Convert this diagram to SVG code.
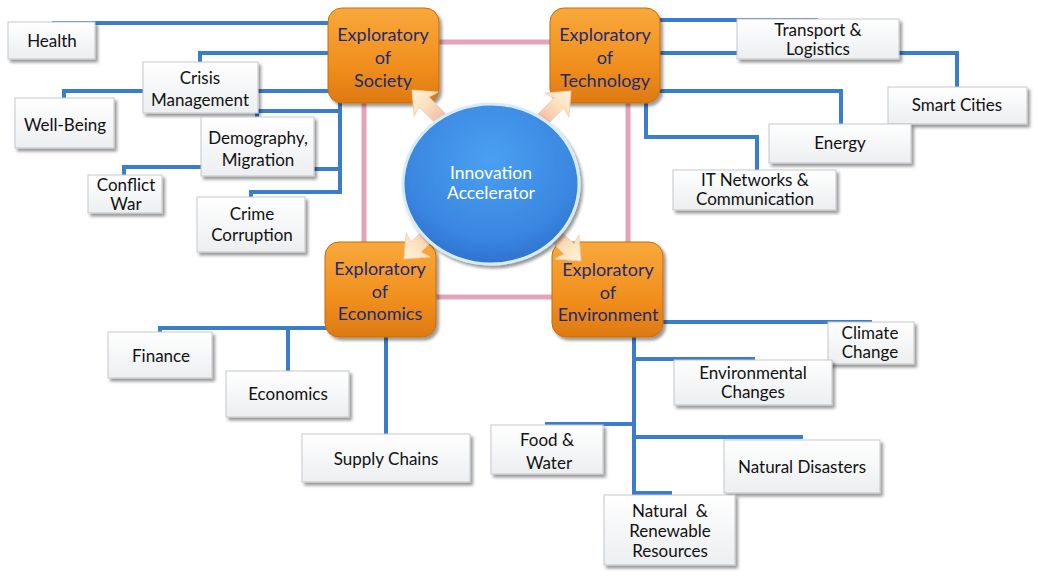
<svg xmlns="http://www.w3.org/2000/svg" width="1038" height="578" viewBox="0 0 1038 578">
<style>
.conn{fill:none;stroke:#3a7dcc;stroke-width:4;stroke-linejoin:miter}
.pink{fill:none;stroke:#e3a3ba;stroke-width:5}
.wb{fill:url(#wg);stroke:#c3c8cd;stroke-width:1;filter:url(#sh)}
.ob{fill:url(#og);stroke:#c86d0a;stroke-width:1;filter:url(#sh)}
.wt{font-family:Lato,"Liberation Sans",sans-serif;font-size:17px;fill:#111;text-anchor:middle}
.ot{font-family:Lato,"Liberation Sans",sans-serif;font-size:18px;fill:#1c2a78;text-anchor:middle}
.ct{font-family:Lato,"Liberation Sans",sans-serif;font-size:17.5px;fill:#fff;text-anchor:middle}
.arr{fill:url(#ag);stroke:#f0cdb5;stroke-width:0.8}
</style>
<defs>
<filter id="sh" x="-20%" y="-20%" width="140%" height="150%">
<feDropShadow dx="2.5" dy="3" stdDeviation="1.5" flood-color="#000" flood-opacity="0.4"/>
</filter>
<linearGradient id="wg" x1="0" y1="0" x2="0" y2="1">
<stop offset="0" stop-color="#ffffff"/>
<stop offset="1" stop-color="#eceef0"/>
</linearGradient>
<linearGradient id="og" x1="0" y1="0" x2="0" y2="1">
<stop offset="0" stop-color="#f9a83c"/>
<stop offset="0.6" stop-color="#f08f1e"/>
<stop offset="1" stop-color="#dd7a10"/>
</linearGradient>
<radialGradient id="cg" cx="0.5" cy="0.35" r="0.7">
<stop offset="0" stop-color="#4aa0f2"/>
<stop offset="0.7" stop-color="#3a86e0"/>
<stop offset="1" stop-color="#2c6cc8"/>
</radialGradient>
<linearGradient id="ag" x1="0" y1="0" x2="1" y2="0">
<stop offset="0" stop-color="#f2b4a4"/>
<stop offset="0.55" stop-color="#fbe0bc"/>
<stop offset="1" stop-color="#fff3dc"/>
</linearGradient>
</defs>

<g id="connectors">
<path class="pink" d="M439,42 H550 M364,103 V242 M628,103 V242 M436,297 H552"/>
<path class="conn" d="M52,23 H330"/>
<path class="conn" d="M200,62 V53 H330"/>
<path class="conn" d="M64,98 V91 H330"/>
<path class="conn" d="M340,103 V192 H251 V197"/>
<path class="conn" d="M258,111 H340 M257,111 V117"/>
<path class="conn" d="M314,169 H340"/>
<path class="conn" d="M201,167 H124 V175"/>
<path class="conn" d="M660,20 H818"/>
<path class="conn" d="M660,53 H737"/>
<path class="conn" d="M899,53 H957 V87"/>
<path class="conn" d="M660,91 H841 V124"/>
<path class="conn" d="M646,103 V137 H757 V170"/>
<path class="conn" d="M327,328 H160 V332"/>
<path class="conn" d="M288,328 V371"/>
<path class="conn" d="M386,337 V434"/>
<path class="conn" d="M663,322 H872"/>
<path class="conn" d="M634,337 V493 H670 V495"/>
<path class="conn" d="M634,359 H755"/>
<path class="conn" d="M634,424 H545"/>
<path class="conn" d="M634,437 H803"/>
</g>

<g id="society">
<rect class="ob" x="328" y="8" width="111" height="95" rx="14"/>
<text class="ot" x="383" y="41">Exploratory</text>
<text class="ot" x="383" y="64">of</text>
<text class="ot" x="383" y="87">Society</text>
</g>
<g id="technology">
<rect class="ob" x="550" y="8" width="110" height="95" rx="14"/>
<text class="ot" x="605" y="41">Exploratory</text>
<text class="ot" x="605" y="64">of</text>
<text class="ot" x="605" y="87">Technology</text>
</g>
<g id="economics">
<rect class="ob" x="325" y="242" width="111" height="95" rx="14"/>
<text class="ot" x="380" y="275">Exploratory</text>
<text class="ot" x="380" y="298">of</text>
<text class="ot" x="380" y="320">Economics</text>
</g>
<g id="environment">
<rect class="ob" x="552" y="242" width="111" height="95" rx="14"/>
<text class="ot" x="608" y="276">Exploratory</text>
<text class="ot" x="608" y="299">of</text>
<text class="ot" x="608" y="321">Environment</text>
</g>

<g id="arrows">
<polygon class="arr" transform="translate(412,90) rotate(-135)" points="0,0 -20,-17 -17,-7 -46,-7 -46,7 -17,7 -20,17"/>
<polygon class="arr" transform="translate(571,91) rotate(-45)" points="0,0 -20,-17 -17,-7 -46,-7 -46,7 -17,7 -20,17"/>
<polygon class="arr" transform="translate(404,259) rotate(135)" points="0,0 -20,-17 -17,-7 -46,-7 -46,7 -17,7 -20,17"/>
<polygon class="arr" transform="translate(581,261) rotate(45)" points="0,0 -20,-17 -17,-7 -46,-7 -46,7 -17,7 -20,17"/>
</g>

<g id="innovation">
<ellipse cx="491" cy="184" rx="88" ry="80" fill="url(#cg)" stroke="#d6ecfb" stroke-width="3" filter="url(#sh)"/>
<text class="ct" x="491" y="179">Innovation</text>
<text class="ct" x="491" y="199">Accelerator</text>
</g>

<g id="health"><rect class="wb" x="8" y="22" width="87" height="37"/><text class="wt" x="52" y="47">Health</text></g>
<g id="crisis"><rect class="wb" x="143" y="62" width="115" height="51"/><text class="wt" x="200" y="84">Crisis</text><text class="wt" x="200" y="106">Management</text></g>
<g id="wellbeing"><rect class="wb" x="15" y="98" width="99" height="50"/><text class="wt" x="65" y="131">Well-Being</text></g>
<g id="demography"><rect class="wb" x="201" y="117" width="113" height="59"/><text class="wt" x="258" y="144">Demography,</text><text class="wt" x="258" y="166">Migration</text></g>
<g id="conflict"><rect class="wb" x="88" y="175" width="74" height="38"/><text class="wt" x="126" y="191">Conflict</text><text class="wt" x="126" y="210">War</text></g>
<g id="crime"><rect class="wb" x="197" y="197" width="108" height="55"/><text class="wt" x="252" y="220">Crime</text><text class="wt" x="252" y="241">Corruption</text></g>
<g id="transport"><rect class="wb" x="737" y="19" width="162" height="40"/><text class="wt" x="818" y="36">Transport &amp;</text><text class="wt" x="818" y="55">Logistics</text></g>
<g id="smartcities"><rect class="wb" x="888" y="87" width="139" height="37"/><text class="wt" x="957" y="111">Smart Cities</text></g>
<g id="energy"><rect class="wb" x="769" y="124" width="142" height="39"/><text class="wt" x="840" y="149">Energy</text></g>
<g id="itnetworks"><rect class="wb" x="673" y="170" width="163" height="40"/><text class="wt" x="755" y="186">IT Networks &amp;</text><text class="wt" x="755" y="205">Communication</text></g>
<g id="finance"><rect class="wb" x="108" y="332" width="104" height="46"/><text class="wt" x="161" y="362">Finance</text></g>
<g id="economics2"><rect class="wb" x="226" y="371" width="123" height="46"/><text class="wt" x="288" y="400">Economics</text></g>
<g id="supplychains"><rect class="wb" x="302" y="434" width="168" height="48"/><text class="wt" x="386" y="465">Supply Chains</text></g>
<g id="climate"><rect class="wb" x="828" y="322" width="86" height="42"/><text class="wt" x="870" y="339">Climate</text><text class="wt" x="870" y="358">Change</text></g>
<g id="envchanges"><rect class="wb" x="674" y="360" width="158" height="45"/><text class="wt" x="753" y="379">Environmental</text><text class="wt" x="753" y="398">Changes</text></g>
<g id="food"><rect class="wb" x="491" y="425" width="112" height="49"/><text class="wt" x="547" y="446">Food &amp;</text><text class="wt" x="549" y="469">Water</text></g>
<g id="disasters"><rect class="wb" x="724" y="440" width="156" height="53"/><text class="wt" x="802" y="473">Natural Disasters</text></g>
<g id="resources"><rect class="wb" x="604" y="495" width="131" height="70"/><text class="wt" x="670" y="517" xml:space="preserve">Natural  &amp;</text><text class="wt" x="670" y="537">Renewable</text><text class="wt" x="670" y="557">Resources</text></g>
</svg>
